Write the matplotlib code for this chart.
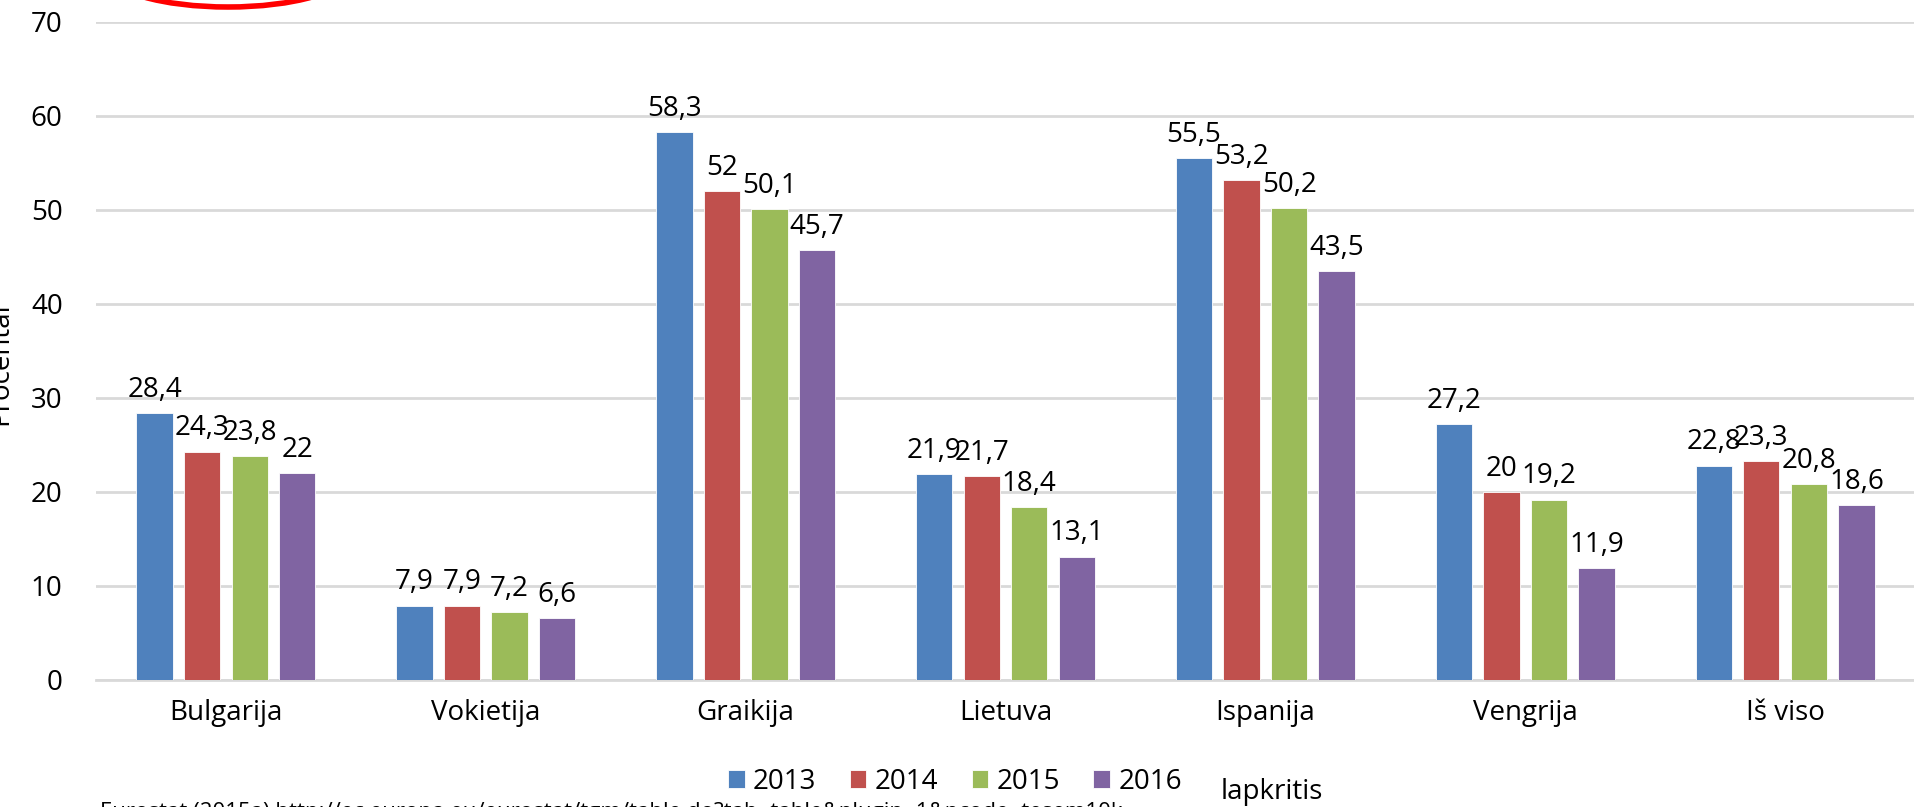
import numpy as np
import matplotlib
matplotlib.use('Agg')
import matplotlib.pyplot as plt
from matplotlib.patches import Ellipse

# data
countries = ['Bulgarija', 'Vokietija', 'Graikija', 'Lietuva', 'Ispanija', 'Vengrija', 'Iš viso']
years = ['2013', '2014', '2015', '2016']
v2013 = [28.4, 7.9, 58.3, 21.9, 55.5, 27.2, 22.8]
v2014 = [24.3, 7.9, 52.0, 21.7, 53.2, 20.0, 23.3]
v2015 = [23.8, 7.2, 50.1, 18.4, 50.2, 19.2, 20.8]
v2016 = [22.0, 6.6, 45.7, 13.1, 43.5, 11.9, 18.6]
series = [v2013, v2014, v2015, v2016]
colors = ['#4F81BD', '#C0504D', '#9BBB59', '#8064A2']
yticks = [0, 10, 20, 30, 40, 50, 60, 70]

plt.rcParams['font.family'] = ['Open Sans', 'DejaVu Sans']

W, H = 1915, 807
fig = plt.figure(figsize=(W / 100, H / 100), dpi=100)
ax = fig.add_axes([96 / W, 1 - 680 / H, 1 - 96 / W, (680 - 22) / H])

x = np.arange(len(countries))
bw = 0.14
step = 0.183
for i, (vals, c, yr) in enumerate(zip(series, colors, years)):
    pos = x + (i - 1.5) * step
    ax.bar(pos, vals, bw, color=c, label=yr, edgecolor='#ffffff', linewidth=0.6, zorder=2)
    for px, v in zip(pos, vals):
        lab = f'{v:g}'.replace('.', ',')
        ax.text(px, v + 1.0, lab, ha='center', va='bottom', fontsize=20, color='black')

ax.set_xlim(-0.5, 6.5)
ax.set_ylim(0, 70)
ax.set_yticks(yticks)
ax.set_xticks(x)
ax.set_xticklabels(countries, fontsize=20)
ax.tick_params(axis='y', labelsize=20, length=0, pad=24)
ax.tick_params(axis='x', length=0, pad=14)
ax.grid(axis='y', color='#D9D9D9', linewidth=2, zorder=0)
ax.set_axisbelow(True)
for s in ['top', 'right', 'left']:
    ax.spines[s].set_visible(False)
ax.spines['bottom'].set_color('#D9D9D9')
ax.spines['bottom'].set_linewidth(2)
ax.spines['bottom'].set_zorder(0)

fig.text(14 / W, 1 - 364 / H, 'Procentai', rotation=90, ha='right', va='center', fontsize=20)

ax.legend(loc='center', bbox_to_anchor=(955 / W, 1 - 782 / H), bbox_transform=fig.transFigure,
          ncol=4, frameon=False, fontsize=20, handlelength=0.6, handleheight=0.6,
          handletextpad=0.3, columnspacing=1.2)

fig.text(1221 / W, 1 - 792 / H, 'lapkritis', ha='left', va='center', fontsize=20)
fig.text(100 / W, 1 - 802 / H,
         'Eurostat (2015a) http://ec.europa.eu/eurostat/tgm/table.do?tab=table&plugin=1&pcode=tesem10k',
         ha='left', va='top', fontsize=16)

ell = Ellipse((228, H + 28), 240, 70, transform=None, fill=False, edgecolor='#FF0000', linewidth=4)
fig.patches.append(ell)

fig.savefig('out.png', dpi=100)
